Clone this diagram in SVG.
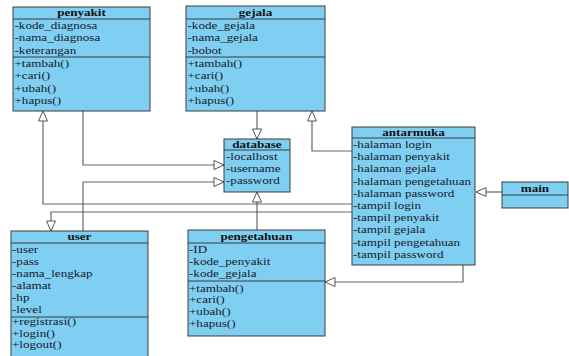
<svg xmlns="http://www.w3.org/2000/svg" width="569" height="356" viewBox="0 0 569 356">
<style>
.box{fill:#7fcff3;stroke:#3c3c3c;stroke-width:1}
.ln{stroke:#3c3c3c;stroke-width:1}
.t{font-family:"Liberation Serif","Times New Roman",serif;font-size:11px;fill:#1a1a2a;transform-box:fill-box;transform-origin:0 50%;transform:scaleX(1.19)}
.h{font-family:"Liberation Serif","Times New Roman",serif;font-size:11px;font-weight:bold;fill:#111;text-anchor:middle;transform-box:fill-box;transform-origin:50% 50%;transform:scaleX(1.19)}
.c{fill:none;stroke:#666;stroke-width:1.2;marker-end:url(#tri)}
</style>
<defs>
<marker id="tri" markerUnits="userSpaceOnUse" markerWidth="12" markerHeight="11" refX="11" refY="5" orient="auto" viewBox="0 0 12 11">
<path d="M1,0.5 L11,5 L1,9.5 Z" fill="#fff" stroke="#555" stroke-width="1"/>
</marker>
</defs>
<rect width="569" height="356" fill="#fff"/>
<g id="connectors">
<path class="c" d="M83,111 V165 H224"/>
<path class="c" d="M83,231 V182 H224"/>
<path class="c" d="M352,204 H43 V111"/>
<path class="c" d="M352,212 H51 V231"/>
<path class="c" d="M257,111 V139"/>
<path class="c" d="M352,151 H312 V111"/>
<path class="c" d="M257,230 V192"/>
<path class="c" d="M463,265 V282 H325"/>
<path class="c" d="M502,192 H476"/>
</g>
<g id="penyakit">
<rect class="box" x="13" y="7" width="137" height="104"/>
<line class="ln" x1="13" y1="19" x2="150" y2="19"/>
<line class="ln" x1="13" y1="57" x2="150" y2="57"/>
<text class="h" x="81.5" y="16">penyakit</text>
<text class="t" x="14.5" y="29">-kode_diagnosa</text>
<text class="t" x="14.5" y="41.5">-nama_diagnosa</text>
<text class="t" x="14.5" y="54">-keterangan</text>
<text class="t" x="14.5" y="67">+tambah()</text>
<text class="t" x="14.5" y="79.5">+cari()</text>
<text class="t" x="14.5" y="92">+ubah()</text>
<text class="t" x="14.5" y="104">+hapus()</text>
</g>
<g id="gejala">
<rect class="box" x="186" y="6" width="139" height="105"/>
<line class="ln" x1="186" y1="19" x2="325" y2="19"/>
<line class="ln" x1="186" y1="57" x2="325" y2="57"/>
<text class="h" x="255.5" y="16">gejala</text>
<text class="t" x="187.5" y="29">-kode_gejala</text>
<text class="t" x="187.5" y="41.5">-nama_gejala</text>
<text class="t" x="187.5" y="54">-bobot</text>
<text class="t" x="187.5" y="67">+tambah()</text>
<text class="t" x="187.5" y="79.5">+cari()</text>
<text class="t" x="187.5" y="92">+ubah()</text>
<text class="t" x="187.5" y="104">+hapus()</text>
</g>
<g id="database">
<rect class="box" x="224" y="139" width="66" height="53"/>
<line class="ln" x1="224" y1="150" x2="290" y2="150"/>
<text class="h" x="257" y="148">database</text>
<text class="t" x="226" y="160.5">-localhost</text>
<text class="t" x="226" y="172.5">-username</text>
<text class="t" x="226" y="184.3">-password</text>
</g>
<g id="antarmuka">
<rect class="box" x="352" y="127" width="123" height="138"/>
<line class="ln" x1="352" y1="138" x2="475" y2="138"/>
<text class="h" x="413.5" y="136">antarmuka</text>
<text class="t" x="353" y="148">-halaman login</text>
<text class="t" x="353" y="160.2">-halaman penyakit</text>
<text class="t" x="353" y="172.4">-halaman gejala</text>
<text class="t" x="353" y="184.6">-halaman pengetahuan</text>
<text class="t" x="353" y="196.8">-halaman password</text>
<text class="t" x="353" y="209">-tampil login</text>
<text class="t" x="353" y="221.2">-tampil penyakit</text>
<text class="t" x="353" y="233.4">-tampil gejala</text>
<text class="t" x="353" y="245.6">-tampil pengetahuan</text>
<text class="t" x="353" y="257.8">-tampil password</text>
</g>
<g id="main">
<rect class="box" x="502" y="182" width="66" height="26"/>
<line class="ln" x1="502" y1="195" x2="568" y2="195"/>
<text class="h" x="535" y="192">main</text>
</g>
<g id="user">
<rect class="box" x="11" y="231" width="137" height="130"/>
<line class="ln" x1="11" y1="243" x2="148" y2="243"/>
<line class="ln" x1="11" y1="317" x2="148" y2="317"/>
<text class="h" x="79.5" y="240">user</text>
<text class="t" x="12" y="253.3">-user</text>
<text class="t" x="12" y="265.2">-pass</text>
<text class="t" x="12" y="277">-nama_lengkap</text>
<text class="t" x="12" y="289">-alamat</text>
<text class="t" x="12" y="300.8">-hp</text>
<text class="t" x="12" y="312.6">-level</text>
<text class="t" x="12" y="325">+registrasi()</text>
<text class="t" x="12" y="336.7">+login()</text>
<text class="t" x="12" y="348.5">+logout()</text>
</g>
<g id="pengetahuan">
<rect class="box" x="188" y="230" width="137" height="106"/>
<line class="ln" x1="188" y1="243" x2="325" y2="243"/>
<line class="ln" x1="188" y1="281" x2="325" y2="281"/>
<text class="h" x="256.5" y="240.5">pengetahuan</text>
<text class="t" x="189" y="253">-ID</text>
<text class="t" x="189" y="265">-kode_penyakit</text>
<text class="t" x="189" y="277">-kode_gejala</text>
<text class="t" x="189" y="291.7">+tambah()</text>
<text class="t" x="189" y="303.4">+cari()</text>
<text class="t" x="189" y="315.1">+ubah()</text>
<text class="t" x="189" y="326.8">+hapus()</text>
</g>
</svg>
